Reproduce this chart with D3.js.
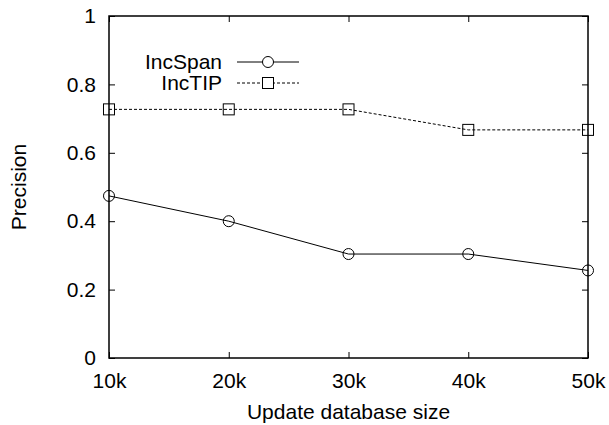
<!DOCTYPE html>
<html>
<head>
<meta charset="utf-8">
<script src="https://cdn.jsdelivr.net/npm/d3@7"></script>
<style>
  body { margin: 0; background: #fff; }
  text { font-family: "Liberation Sans", Arial, sans-serif; fill: #000; }
</style>
</head>
<body>
<div id="chart"></div>
<script>
// data
var sizes = ["10k", "20k", "30k", "40k", "50k"];
var sizeVals = [10, 20, 30, 40, 50];
var incSpan = [0.474, 0.400, 0.304, 0.304, 0.256];
var incTIP = [0.727, 0.727, 0.727, 0.667, 0.667];
var yTicks = [0, 0.2, 0.4, 0.6, 0.8, 1];

var svgWidth = 609, svgHeight = 425;
var margin = { top: 16, right: 21, bottom: 67, left: 109 };
var width = svgWidth - margin.left - margin.right;
var height = svgHeight - margin.top - margin.bottom;
var fs = "21px";

var svg = d3.select("#chart").append("svg")
  .attr("width", svgWidth)
  .attr("height", svgHeight);

var g = svg.append("g")
  .attr("transform", `translate(${margin.left}, ${margin.top})`);

var x = d3.scaleLinear().domain([10, 50]).range([0, width]);
var y = d3.scaleLinear().domain([0, 1]).range([height, 0]);

// axes, ticks drawn inward (mirrored on top/right)
var bottomAxis = d3.axisBottom(x).tickValues(sizeVals)
  .tickFormat((d, i) => sizes[i]).tickSizeInner(-6).tickSizeOuter(0).tickPadding(15);
var leftAxis = d3.axisLeft(y).tickValues(yTicks)
  .tickFormat(d3.format("")).tickSizeInner(-6).tickSizeOuter(0).tickPadding(13);
var topAxis = d3.axisTop(x).tickValues(sizeVals).tickFormat("").tickSizeInner(-6).tickSizeOuter(0);
var rightAxis = d3.axisRight(y).tickValues(yTicks).tickFormat("").tickSizeInner(-6).tickSizeOuter(0);

function styleAxis(sel) {
  sel.select(".domain").remove();
  sel.selectAll("line").attr("stroke", "#000");
  sel.selectAll("text").style("font-size", fs)
    .style("font-family", "'Liberation Sans', Arial, sans-serif");
}

g.append("g").attr("transform", `translate(0, ${height})`).call(bottomAxis).call(styleAxis);
g.append("g").call(leftAxis).call(styleAxis);
g.append("g").call(topAxis).call(styleAxis);
g.append("g").attr("transform", `translate(${width}, 0)`).call(rightAxis).call(styleAxis);

// frame
g.append("rect")
  .attr("width", width).attr("height", height)
  .attr("fill", "none").attr("stroke", "#000").attr("stroke-width", 1.5);

var line = d3.line().x((d, i) => x(sizeVals[i])).y(d => y(d));

g.append("path").datum(incTIP)
  .attr("d", line).attr("fill", "none")
  .attr("stroke", "#000").attr("stroke-width", 1).attr("stroke-dasharray", "3,2");

g.append("path").datum(incSpan)
  .attr("d", line).attr("fill", "none")
  .attr("stroke", "#000").attr("stroke-width", 1);

g.selectAll(".sq").data(incTIP).enter().append("rect")
  .attr("x", (d, i) => x(sizeVals[i]) - 5.5)
  .attr("y", d => y(d) - 5.5)
  .attr("width", 11).attr("height", 11)
  .attr("fill", "none").attr("stroke", "#000");

g.selectAll(".ci").data(incSpan).enter().append("circle")
  .attr("cx", (d, i) => x(sizeVals[i]))
  .attr("cy", d => y(d))
  .attr("r", 5.5)
  .attr("fill", "none").attr("stroke", "#000");

// legend
var legend = svg.append("g");
legend.append("text").attr("x", 222).attr("y", 62).attr("dy", "0.35em")
  .attr("text-anchor", "end").style("font-size", fs).text("IncSpan");
legend.append("line").attr("x1", 237).attr("x2", 299).attr("y1", 62).attr("y2", 62)
  .attr("stroke", "#000");
legend.append("circle").attr("cx", 268).attr("cy", 62).attr("r", 5.5)
  .attr("fill", "#fff").attr("stroke", "#000");

legend.append("text").attr("x", 222).attr("y", 83).attr("dy", "0.35em")
  .attr("text-anchor", "end").style("font-size", fs).text("IncTIP");
legend.append("line").attr("x1", 237).attr("x2", 299).attr("y1", 83).attr("y2", 83)
  .attr("stroke", "#000").attr("stroke-dasharray", "3,2");
legend.append("rect").attr("x", 262.5).attr("y", 77.5).attr("width", 11).attr("height", 11)
  .attr("fill", "#fff").attr("stroke", "#000");

// axis titles
svg.append("text")
  .attr("transform", "rotate(-90)")
  .attr("x", -(margin.top + height / 2)).attr("y", 26)
  .attr("text-anchor", "middle").style("font-size", fs)
  .text("Precision");

svg.append("text")
  .attr("x", margin.left + width / 2).attr("y", 419)
  .attr("text-anchor", "middle").style("font-size", fs)
  .text("Update database size");
</script>
</body>
</html>
